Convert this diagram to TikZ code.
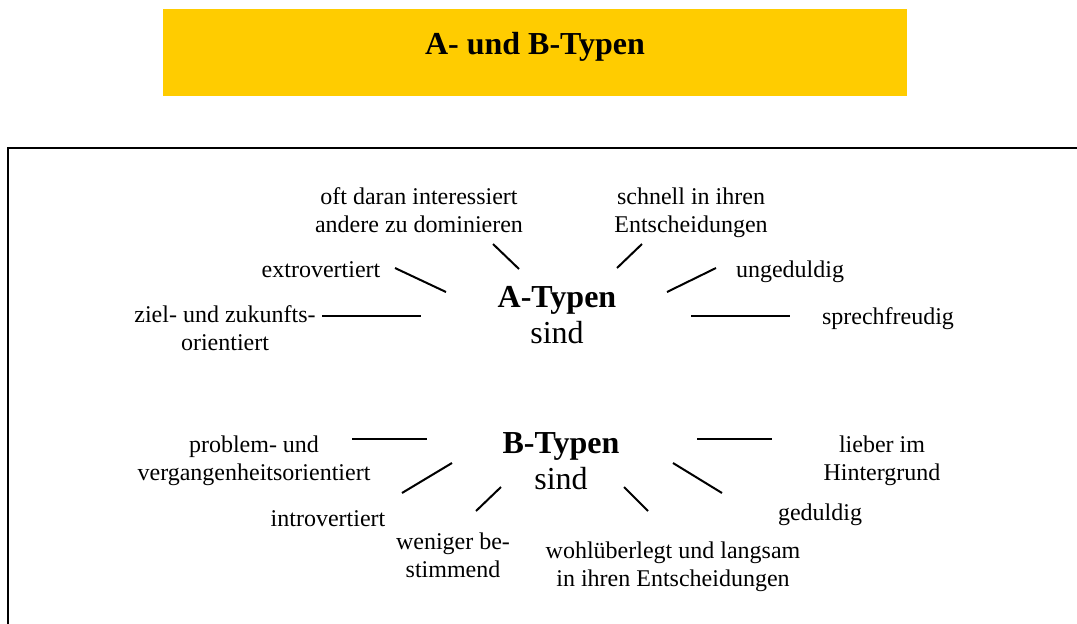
\documentclass[tikz,border=0pt]{standalone}
\usepackage{fontspec}
\setmainfont{Liberation Serif}
\definecolor{titlefill}{HTML}{FFCC00}
\begin{document}
\begin{tikzpicture}[x=0.5pt,y=-0.5pt,
  lbl/.style={font=\fontsize{12}{13.8}\selectfont, align=center, anchor=base, inner sep=0pt},
  big/.style={font=\fontsize{16}{18}\selectfont, align=center, anchor=base, inner sep=0pt},
  spoke/.style={line width=1pt},
  frame/.style={line width=1pt}]
\useasboundingbox (0,0) rectangle (1077,623);
\clip (0,0) rectangle (1077,623);
% title
\fill[titlefill] (163,9) rectangle (907,96);
\node[big, font=\fontsize{16}{18}\selectfont\bfseries] (title) at (535,54) {A- und B-Typen};
% frame
\draw[frame] (8,148) rectangle (1120,700);
% centres (base = last line)
\node[big] (A) at (557,343) {\textbf{A-Typen}\\sind};
\node[big] (B) at (561,489) {\textbf{B-Typen}\\sind};
% A labels
\node[lbl] (a1) at (419,232) {oft daran interessiert\\andere zu dominieren};
\node[lbl] (a2) at (691,232) {schnell in ihren\\Entscheidungen};
\node[lbl] (a3) at (321,277) {extrovertiert};
\node[lbl] (a4) at (790,277) {ungeduldig};
\node[lbl] (a5) at (225,350) {ziel- und zukunfts-\\orientiert};
\node[lbl] (a6) at (888,324) {sprechfreudig};
% B labels
\node[lbl] (b1) at (254,480) {problem- und\\vergangenheitsorientiert};
\node[lbl] (b2) at (882,480) {lieber im\\Hintergrund};
\node[lbl] (b3) at (328,526) {introvertiert};
\node[lbl] (b4) at (820,520) {geduldig};
\node[lbl] (b5) at (453,577) {weniger be-\\stimmend};
\node[lbl] (b6) at (673,586) {wohlüberlegt und langsam\\in ihren Entscheidungen};
% spoke end points
\coordinate (a1s) at (493,244); \coordinate (a1e) at (519,269);
\coordinate (a2s) at (642,244); \coordinate (a2e) at (617,268);
\coordinate (a3s) at (395,268); \coordinate (a3e) at (446,292);
\coordinate (a4s) at (716,268); \coordinate (a4e) at (667,292);
\coordinate (a5s) at (322,316); \coordinate (a5e) at (421,316);
\coordinate (a6s) at (691,316); \coordinate (a6e) at (790,316);
\coordinate (b1s) at (352,439); \coordinate (b1e) at (427,439);
\coordinate (b2s) at (697,439); \coordinate (b2e) at (772,439);
\coordinate (b3s) at (452,463); \coordinate (b3e) at (402,493);
\coordinate (b4s) at (673,463); \coordinate (b4e) at (722,493);
\coordinate (b5s) at (501,487); \coordinate (b5e) at (476,511);
\coordinate (b6s) at (624,487); \coordinate (b6e) at (648,511);
\foreach \s in {a1,a2,a3,a4,a5,a6,b1,b2,b3,b4,b5,b6}
  \draw[spoke] (\s s) -- (\s e);
\end{tikzpicture}
\end{document}
